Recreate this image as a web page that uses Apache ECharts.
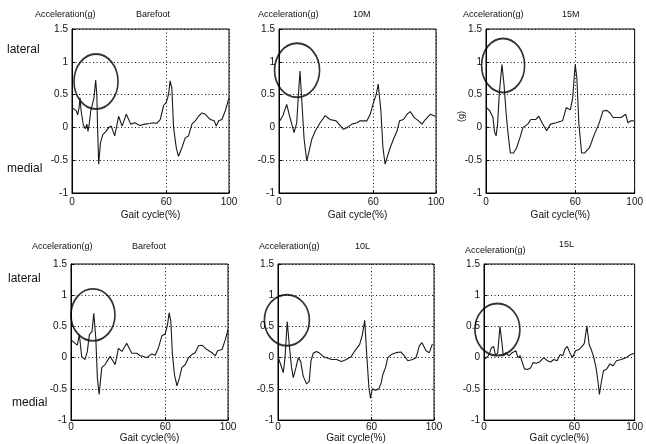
<!DOCTYPE html>
<html>
<head>
<meta charset="utf-8">
<title>Gait acceleration</title>
<script src="https://cdn.jsdelivr.net/npm/echarts@6/dist/echarts.min.js"></script>
<style>
  html, body { margin: 0; padding: 0; background: #fff; }
  #chart { width: 646px; height: 444px; }
</style>
</head>
<body>
<div id="chart"></div>
<script>
  // panel names, in reading order
  var conditions = ['Barefoot', '10M', '15M', 'Barefoot', '10L', '15L'];

  // gait cycle (%) and acceleration (g) for each panel
  var bareTopX = [0, 2.6, 3.6, 4.5, 5.1, 5.8, 7.2, 8.5, 9.5, 10.2, 11, 12, 13, 14, 15.1, 15.8, 16.3, 17, 18.1, 19.6, 21.7, 23.4, 25, 27.2, 29.7, 31.9, 34.6, 37.4, 40, 43.2, 46.4, 49.6, 51.9, 54, 56.2, 58.3, 60, 61.5, 62.5, 63.6, 64.7, 66.4, 67.8, 70, 72.1, 74.2, 76.4, 78.5, 80.6, 82.8, 84.9, 88.1, 90.6, 91.9, 93.4, 95.5, 97.6, 100];
  var bareTopY = [0.30, 0.26, 0.19, 0.30, 0.45, 0.25, 0.04, -0.02, 0.05, -0.06, 0.06, 0.26, 0.35, 0.45, 0.72, 0.50, 0.0, -0.56, -0.24, -0.11, -0.06, 0.0, 0.02, -0.13, 0.17, 0.02, 0.20, 0.05, 0.07, 0.03, 0.05, 0.06, 0.07, 0.06, 0.12, 0.33, 0.38, 0.50, 0.71, 0.60, 0.0, -0.31, -0.44, -0.31, -0.16, -0.13, 0.05, 0.10, 0.17, 0.22, 0.20, 0.12, 0.10, 0.02, 0.10, 0.12, 0.25, 0.45];

  var m10X = [0.6, 2.5, 4.9, 7, 9.6, 11.3, 12.3, 13.4, 14.7, 16, 17.7, 19.4, 20.9, 23, 26.2, 29.4, 32.5, 36.4, 38.9, 41, 43.6, 46.4, 49.6, 51.7, 56, 58.1, 60.2, 61.9, 63.2, 64.9, 66.2, 67.6, 69.1, 70.8, 72.9, 75.1, 76.8, 79.3, 81.5, 83.6, 86.2, 88.9, 91.1, 93.2, 96.4, 99.6];
  var m10Y = [0.10, 0.18, 0.35, 0.15, -0.08, 0.07, 0.48, 0.86, 0.33, -0.18, -0.51, -0.34, -0.18, -0.06, 0.07, 0.18, 0.12, 0.10, 0.03, -0.03, 0.0, 0.05, 0.07, 0.10, 0.10, 0.20, 0.38, 0.50, 0.66, 0.25, -0.31, -0.56, -0.44, -0.31, -0.18, -0.06, 0.10, 0.12, 0.20, 0.24, 0.15, 0.10, 0.05, 0.12, 0.20, 0.17];

  var m15X = [0.4, 2.6, 4.7, 5.7, 6.8, 7.8, 8.9, 10.7, 12.1, 13.6, 14.9, 16.4, 18.5, 20.6, 22.8, 24.9, 28.1, 30.2, 33.4, 35.5, 37.7, 40.8, 43.4, 47.2, 51.5, 54, 56.8, 58.3, 60, 61.1, 62.5, 64.3, 66.4, 69.6, 72.8, 75.9, 78.7, 81.3, 83.4, 85.5, 90.8, 94, 95.5, 97.2, 99.4];
  var m15Y = [0.30, 0.25, 0.15, -0.06, -0.13, 0.05, 0.50, 0.96, 0.66, 0.20, -0.11, -0.39, -0.39, -0.31, -0.16, 0.0, 0.05, 0.12, 0.12, 0.17, 0.07, -0.05, 0.05, 0.07, 0.10, 0.30, 0.27, 0.45, 0.96, 0.76, 0.05, -0.39, -0.39, -0.31, -0.11, 0.05, 0.25, 0.26, 0.22, 0.15, 0.15, 0.20, 0.07, 0.10, 0.10];

  var bareLowX = [0, 2.6, 4, 5.3, 6.8, 8.9, 10.4, 11.7, 13.4, 14.5, 15.8, 16.8, 17.9, 19.6, 21.7, 24.9, 28.1, 30.2, 32.4, 35.5, 38.7, 41.9, 44, 46.1, 48.3, 51.5, 53.6, 55.7, 57.9, 60, 61.5, 62.5, 63.6, 64.6, 65.9, 67.5, 69.1, 70.6, 72.8, 74.9, 77, 79.1, 81.2, 83.4, 86.6, 89.8, 91.9, 93.4, 96.2, 98.3, 100];
  var bareLowY = [0.29, 0.23, 0.20, 0.37, 0.02, -0.03, 0.10, 0.37, 0.42, 0.71, 0.31, -0.32, -0.59, -0.16, -0.11, 0.02, -0.11, 0.15, 0.10, 0.23, 0.07, 0.07, 0.03, 0.02, 0.0, 0.06, 0.04, 0.16, 0.35, 0.38, 0.53, 0.72, 0.58, 0.05, -0.27, -0.45, -0.32, -0.16, -0.11, 0.0, 0.05, 0.08, 0.19, 0.20, 0.13, 0.08, 0.03, 0.11, 0.13, 0.29, 0.45];

  var l10X = [0.2, 1.7, 3.4, 4.5, 5.9, 7.2, 8.7, 9.8, 11.5, 13, 14.5, 16.2, 18.3, 20, 21.1, 22.5, 24.7, 26.8, 28.9, 31.1, 34.3, 37.5, 40.7, 43.8, 47, 49.8, 52.3, 54.1, 55.6, 57, 58.3, 59.3, 60.4, 62.5, 64.6, 66.2, 67.2, 68.9, 70.4, 72.6, 75.7, 78.9, 81, 83.2, 86.3, 88.5, 90.6, 92.3, 94.9, 97, 99];
  var l10Y = [0.0, -0.11, -0.24, 0.0, 0.58, 0.21, -0.16, -0.32, -0.16, 0.0, -0.06, -0.30, -0.42, -0.38, -0.06, 0.07, 0.10, 0.07, 0.02, 0.0, -0.03, -0.03, -0.06, -0.03, 0.02, 0.13, 0.21, 0.37, 0.60, 0.0, -0.49, -0.65, -0.50, -0.52, -0.50, -0.40, -0.27, -0.16, 0.0, 0.05, 0.08, 0.09, 0.03, -0.05, -0.03, 0.0, 0.19, 0.24, 0.11, 0.08, 0.22];

  var l15X = [0.6, 2.8, 3.8, 4.9, 6.4, 7.7, 9.1, 10.6, 11.9, 12.8, 14.5, 16.6, 18.7, 21.2, 22.5, 24, 25.5, 26.8, 28.9, 31.1, 32.5, 34.7, 36.8, 39.6, 42.1, 44.2, 46.4, 48.5, 50.6, 52.3, 53.8, 55.3, 57, 58.7, 60.8, 63, 65.1, 66.6, 68.3, 69.8, 71.5, 72.9, 74.5, 75.7, 76.6, 77.9, 79.3, 81.5, 83.6, 85.7, 87.9, 91.1, 94.3, 97.4, 100];
  var l15Y = [-0.02, 0.03, 0.08, 0.16, 0.18, 0.03, 0.08, 0.50, 0.24, 0.03, 0.08, 0.03, 0.08, 0.11, 0.0, 0.03, -0.08, -0.18, -0.19, -0.16, -0.08, -0.09, -0.07, 0.0, -0.05, -0.07, -0.03, -0.05, 0.05, 0.03, 0.14, 0.18, 0.08, 0.0, 0.11, 0.13, 0.18, 0.23, 0.51, 0.21, 0.11, 0.0, -0.18, -0.39, -0.59, -0.39, -0.21, -0.18, -0.10, -0.13, -0.05, -0.03, 0.0, 0.05, 0.07];

  // circled first peak in each panel: centre (gait %, g) and drawn size
  var circleCenters = [[15.3, 0.70], [11.5, 0.87], [11.5, 0.945], [14.0, 0.685], [5.7, 0.60], [8.9, 0.45]];
  var circleSizes = [[44, 55], [45, 54], [43, 54], [44, 52], [45, 51], [45, 52]];

  var panelX = [bareTopX, m10X, m15X, bareLowX, l10X, l15X];
  var panelY = [bareTopY, m10Y, m15Y, bareLowY, l10Y, l15Y];

  var gridPos = [
    {left: 72, top: 29, width: 157, height: 164},
    {left: 279, top: 29, width: 157, height: 164},
    {left: 486, top: 29, width: 157, height: 164},
    {left: 71, top: 264, width: 157, height: 157},
    {left: 278, top: 264, width: 156, height: 157},
    {left: 484, top: 264, width: 157, height: 157}
  ];

  var font = '"Liberation Sans", Arial, sans-serif';
  var grids = [], xAxes = [], yAxes = [], series = [];

  for (var i = 0; i < 6; i++) {
    var g = gridPos[i];
    var topRow = i < 3;
    grids.push({
      left: g.left, top: g.top, width: g.width, height: g.height,
      show: true, borderColor: '#000', borderWidth: 1, backgroundColor: '#fff'
    });
    xAxes.push({
      type: 'value', gridIndex: i, min: 0, max: 100, interval: 60,
      name: 'Gait cycle(%)', nameLocation: 'middle', nameGap: topRow ? 17 : 12,
      nameTextStyle: {fontFamily: font, fontSize: 10, color: '#111'},
      axisLine: {show: true, onZero: false, lineStyle: {color: '#000'}},
      axisTick: {show: true, inside: true, length: 3, lineStyle: {color: '#000'}},
      axisLabel: {fontFamily: font, fontSize: 10, color: '#111', margin: topRow ? 4 : 2},
      splitLine: {show: true, lineStyle: {color: '#111', type: [1, 2.5], width: 1}}
    });
    yAxes.push({
      type: 'value', gridIndex: i, min: -1, max: 1.5, interval: 0.5,
      axisLine: {show: true, lineStyle: {color: '#000'}},
      axisTick: {show: true, inside: true, length: 3, lineStyle: {color: '#000'}},
      axisLabel: {fontFamily: font, fontSize: 10, color: '#111', margin: 4},
      splitLine: {show: true, lineStyle: {color: '#111', type: [1, 2.5], width: 1}}
    });
    var pts = [];
    for (var k = 0; k < panelX[i].length; k++) {
      pts.push([panelX[i][k], panelY[i][k]]);
    }
    series.push({
      type: 'line', xAxisIndex: i, yAxisIndex: i, data: pts,
      showSymbol: false, symbol: 'none', smooth: false, silent: true,
      lineStyle: {color: '#1a1a1a', width: 1.1}
    });
    series.push({
      type: 'scatter', xAxisIndex: i, yAxisIndex: i, clip: false, silent: true,
      data: [circleCenters[i]], symbol: 'circle', symbolSize: circleSizes[i],
      itemStyle: {color: 'rgba(0,0,0,0)', borderColor: '#000', borderWidth: 1.8}
    });
  }

  function label(text, x, y, size) {
    return {
      type: 'text', left: x, top: y, silent: true,
      style: {text: text, fontFamily: font, fontSize: size, fill: '#111'}
    };
  }

  var texts = [
    label('Acceleration(g)', 35, 10, 9),
    label('Acceleration(g)', 258, 10, 9),
    label('Acceleration(g)', 463, 10, 9),
    label('Acceleration(g)', 32, 242, 9),
    label('Acceleration(g)', 259, 242, 9),
    label('Acceleration(g)', 465, 246, 9),
    label(conditions[0], 136, 10, 9),
    label(conditions[1], 353, 10, 9),
    label(conditions[2], 562, 10, 9),
    label(conditions[3], 132, 242, 9),
    label(conditions[4], 355, 242, 9),
    label(conditions[5], 559, 240, 9),
    label('lateral', 7, 44, 12),
    label('medial', 7, 163, 12),
    label('lateral', 8, 273, 12),
    label('medial', 12, 397, 12),
    {
      type: 'text', x: 457, y: 122, rotation: Math.PI / 2, silent: true,
      style: {text: '(g)', fontFamily: font, fontSize: 9, fill: '#111'}
    }
  ];

  var chart = echarts.init(document.getElementById('chart'));
  chart.setOption({
    backgroundColor: '#fff',
    animation: false,
    grid: grids,
    xAxis: xAxes,
    yAxis: yAxes,
    series: series,
    graphic: texts
  });
</script>
</body>
</html>
